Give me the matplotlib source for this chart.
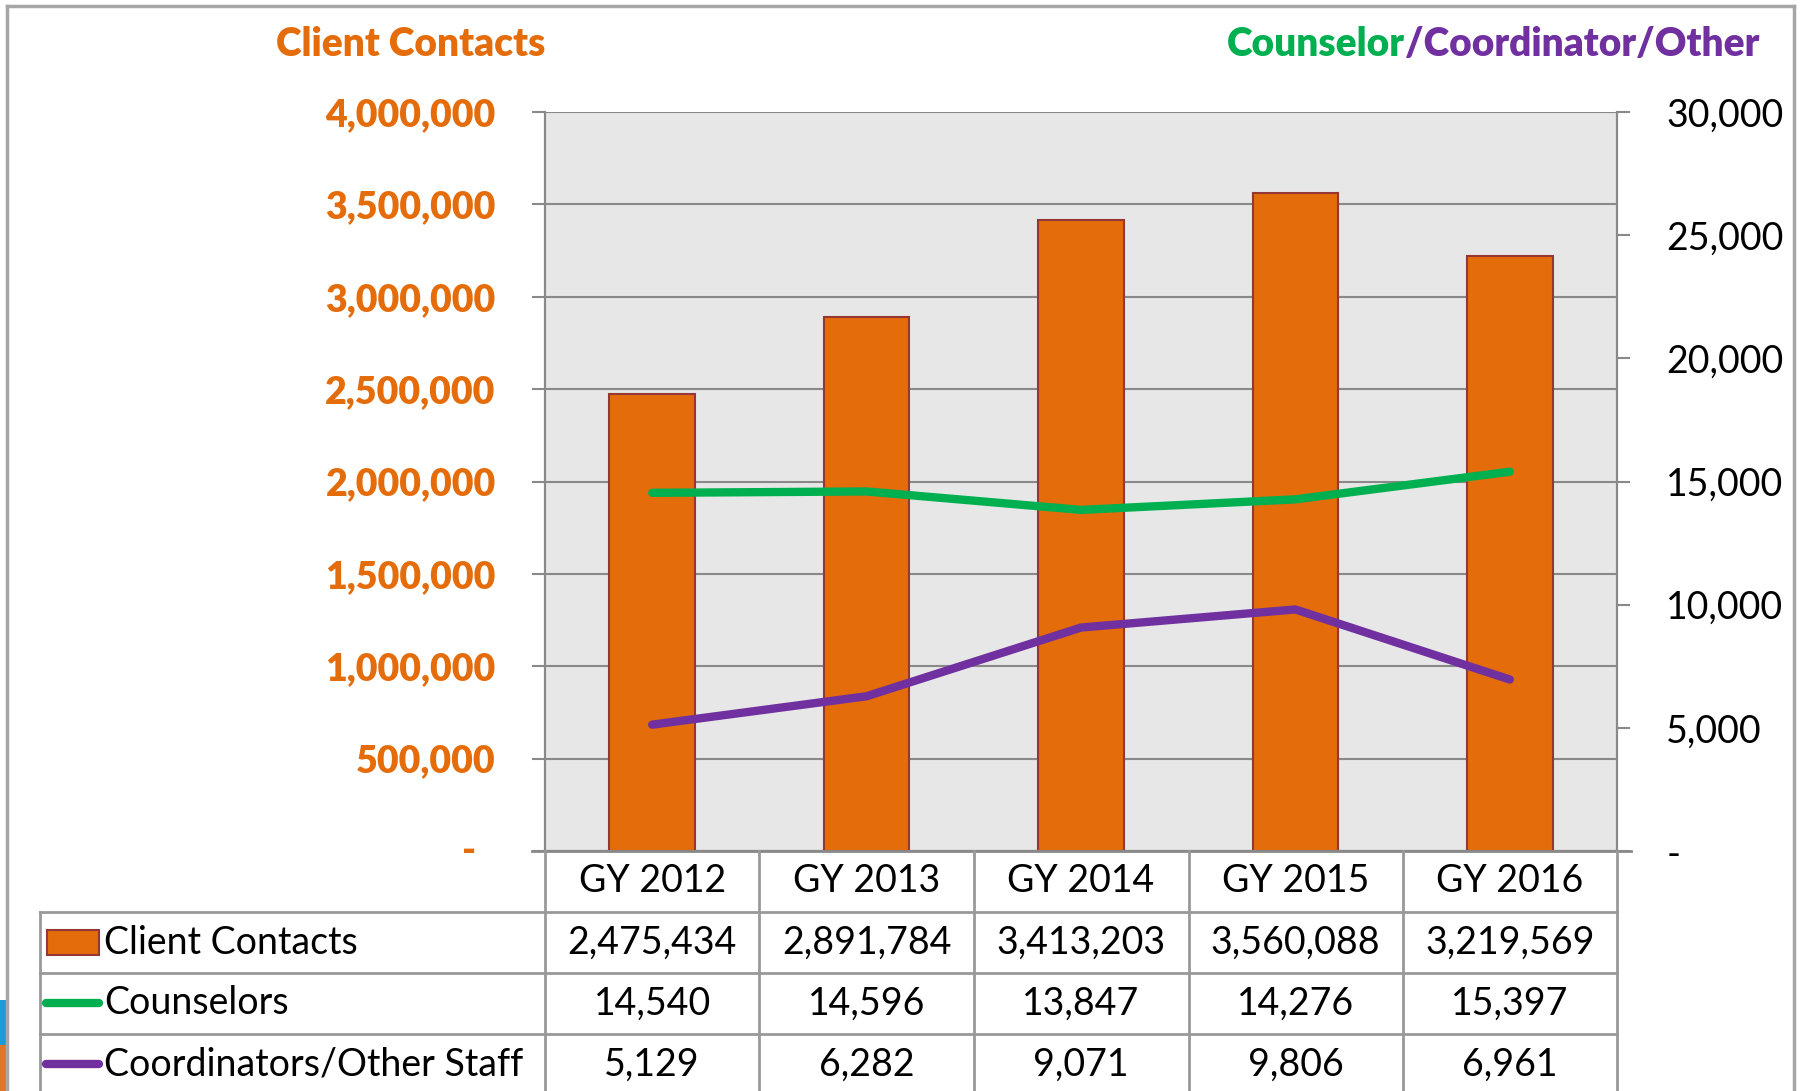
import matplotlib
matplotlib.use("Agg")
import matplotlib.pyplot as plt
from matplotlib.lines import Line2D
from matplotlib.patches import Rectangle
from matplotlib.ticker import FuncFormatter, MultipleLocator
import matplotlib.transforms as mtrans

# ---------------- data ----------------
categories = ["GY 2012", "GY 2013", "GY 2014", "GY 2015", "GY 2016"]
client_contacts = [2475434, 2891784, 3413203, 3560088, 3219569]
counselors = [14540, 14596, 13847, 14276, 15397]
coordinators = [5129, 6282, 9071, 9806, 6961]
series_names = ["Client Contacts", "Counselors", "Coordinators/Other Staff"]

W, H = 1806, 1091
ORANGE = "#E46C0A"
BAR_EDGE = "#953735"
GREEN = "#00B050"
PURPLE = "#7030A0"
GRID = "#898989"
FONT = "Lato"
FS = 27

plt.rcParams['font.family'] = [FONT, 'DejaVu Sans']

fig = plt.figure(figsize=(W / 100, H / 100), dpi=100)


def fx(px):
    return px / W


def fy(py):
    return 1 - py / H


# plot area
L, R, T, B = 545, 1617, 112, 851
ax = fig.add_axes([fx(L), fy(B), fx(R) - fx(L), fy(T) - fy(B)])
ax.set_facecolor("#E7E7E7")
ax2 = ax.twinx()

x = list(range(len(categories)))
ax.bar(x, client_contacts, width=0.4, color=ORANGE, edgecolor=BAR_EDGE,
       linewidth=1.5, zorder=3)
ax.set_xlim(-0.5, len(categories) - 0.5)
ax.set_ylim(0, 4000000)
ax.yaxis.set_major_locator(MultipleLocator(500000))
ax.grid(axis='y', color=GRID, linewidth=1.5, zorder=1)
ax.set_axisbelow(True)
ax.set_xticks([])

ax2.plot(x, counselors, color=GREEN, linewidth=6, solid_capstyle='round', zorder=4)
ax2.plot(x, coordinators, color=PURPLE, linewidth=6, solid_capstyle='round', zorder=4)
ax2.set_ylim(0, 30000)
ax2.yaxis.set_major_locator(MultipleLocator(5000))

for a in (ax, ax2):
    for s in a.spines.values():
        s.set_color(GRID)
        s.set_linewidth(1.5)
    a.spines['top'].set_visible(False)


def left_fmt(v, pos):
    return "" if v == 0 else f"{int(v):,}"


def right_fmt(v, pos):
    return "-" if v == 0 else f"{int(v):,}"


ax.yaxis.set_major_formatter(FuncFormatter(left_fmt))
ax2.yaxis.set_major_formatter(FuncFormatter(right_fmt))
ax.tick_params(axis='y', direction='out', length=9.5, width=1.5, color=GRID,
               pad=26, labelsize=FS, labelcolor=ORANGE)
ax2.tick_params(axis='y', direction='out', length=9.5, width=1.5, color=GRID,
                pad=26, labelsize=FS, labelcolor="black")

# zero label "-" on the left axis
ax.text(fx(469), 0, "-", transform=mtrans.blended_transform_factory(fig.transFigure, ax.transData),
        ha='center', va='center', fontsize=FS, fontweight='heavy', color=ORANGE)

# bottom axis extension (tick marks at zero level)
fig.add_artist(Line2D([fx(532), fx(1631)], [fy(B), fy(B)], color=GRID, linewidth=2))

# titles
TY = 45
fig.text(fx(411), fy(TY), "Client Contacts", ha='center', va='center',
         fontsize=28, fontweight='heavy', color=ORANGE)
t1 = fig.text(fx(1227), fy(TY), "Counselor", ha='left', va='center',
              fontsize=28, fontweight='heavy', color=GREEN)
fig.canvas.draw()
r = fig.canvas.get_renderer()
bb = t1.get_window_extent(r)
fig.text(bb.x1 / W, fy(TY), "/Coordinator/Other", ha='left', va='center',
         fontsize=28, fontweight='heavy', color=PURPLE)

# ---------------- data table ----------------
row_tops = [851, 912, 973, 1034, 1095]
col_x = [545, 759, 974, 1189, 1403, 1617]
TL = 40
tcol = "#999999"
for yy in row_tops[1:4]:
    fig.add_artist(Line2D([fx(TL), fx(R)], [fy(yy), fy(yy)], color=tcol, linewidth=2))
for xx in col_x:
    fig.add_artist(Line2D([fx(xx), fx(xx)], [fy(B), 0], color=tcol, linewidth=2))
fig.add_artist(Line2D([fx(TL), fx(TL)], [fy(912), 0], color=tcol, linewidth=2))

tr = mtrans.blended_transform_factory(ax.transData, fig.transFigure)
rows = [client_contacts, counselors, coordinators]
for i, c in enumerate(categories):
    fig.text(i, fy((row_tops[0] + row_tops[1]) / 2), c, transform=tr,
             ha='center', va='center', fontsize=FS, color='black')
    for j, vals in enumerate(rows):
        yc = (row_tops[j + 1] + row_tops[j + 2]) / 2
        fig.text(i, fy(yc), f"{vals[i]:,}", transform=tr,
                 ha='center', va='center', fontsize=FS, color='black')

# legend keys and row labels
fig.add_artist(Rectangle((fx(47), fy(955)), fx(99) - fx(47), fy(930) - fy(955),
                         facecolor=ORANGE, edgecolor=BAR_EDGE, linewidth=1.5,
                         transform=fig.transFigure))
fig.add_artist(Line2D([fx(46), fx(99)], [fy(1003), fy(1003)], color=GREEN,
                      linewidth=6, solid_capstyle='round'))
fig.add_artist(Line2D([fx(46), fx(99)], [fy(1064), fy(1064)], color=PURPLE,
                      linewidth=6, solid_capstyle='round'))
for j, name in enumerate(series_names):
    yc = (row_tops[j + 1] + row_tops[j + 2]) / 2
    fig.text(fx(104), fy(yc), name, ha='left', va='center', fontsize=FS, color='black')

# outer frame
fc = "#A6A6A6"
fig.add_artist(Line2D([fx(7), fx(7)], [0, fy(6)], color=fc, linewidth=2.5))
fig.add_artist(Line2D([fx(7), fx(1794)], [fy(6), fy(6)], color=fc, linewidth=2.5))
fig.add_artist(Line2D([fx(1794), fx(1794)], [fy(6), 0], color=fc, linewidth=2.5))

# slide decoration peeking at the left edge
fig.add_artist(Rectangle((0, fy(1045)), fx(6), fy(1000) - fy(1045), facecolor="#1E9AD6",
                         edgecolor='none', transform=fig.transFigure))
fig.add_artist(Rectangle((0, 0), fx(6), fy(1045), facecolor="#E0762A",
                         edgecolor='none', transform=fig.transFigure))

fig.canvas.draw()
for t in ax.yaxis.get_major_ticks():
    t.label1.set_fontweight('heavy')

fig.savefig("out.png", dpi=100)
